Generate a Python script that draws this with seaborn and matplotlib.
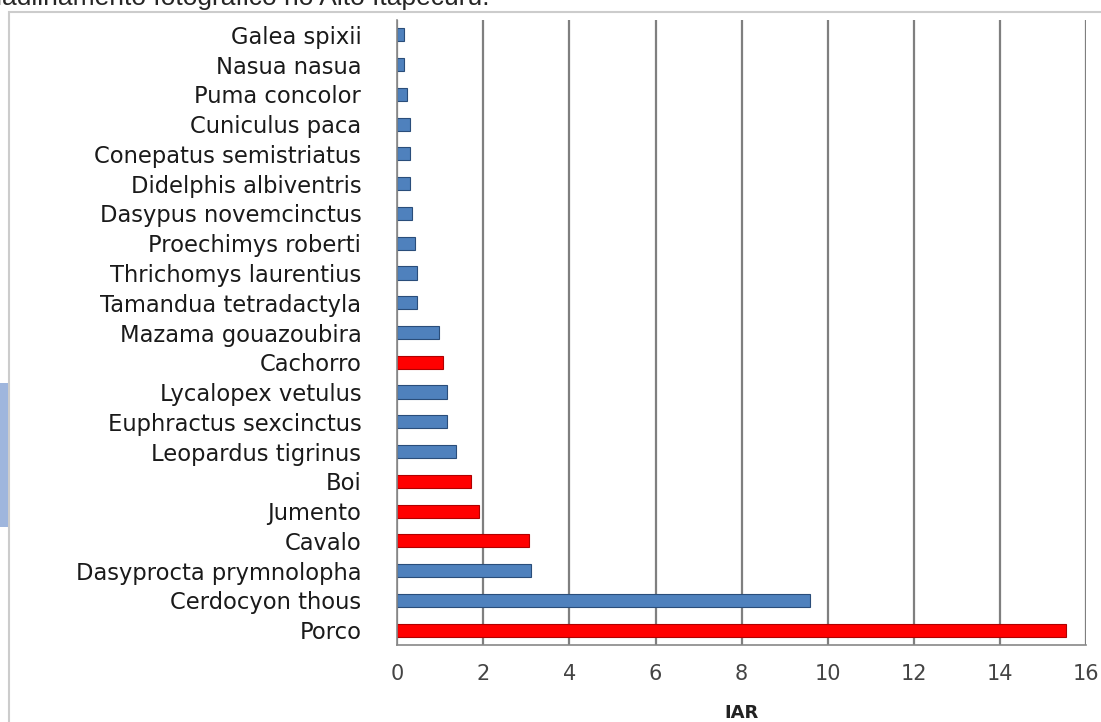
import matplotlib
matplotlib.use("Agg")
import matplotlib.pyplot as plt
import matplotlib.patches as mpatches
import seaborn as sns
import pandas as pd

species = ["Galea spixii", "Nasua nasua", "Puma concolor", "Cuniculus paca",
           "Conepatus semistriatus", "Didelphis albiventris", "Dasypus novemcinctus",
           "Proechimys roberti", "Thrichomys laurentius", "Tamandua tetradactyla",
           "Mazama gouazoubira", "Cachorro", "Lycalopex vetulus", "Euphractus sexcinctus",
           "Leopardus tigrinus", "Boi", "Jumento", "Cavalo", "Dasyprocta prymnolopha",
           "Cerdocyon thous", "Porco"]
iar = [0.15, 0.15, 0.22, 0.28, 0.28, 0.28, 0.33, 0.4, 0.45, 0.45,
       0.97, 1.05, 1.15, 1.15, 1.35, 1.7, 1.9, 3.05, 3.1, 9.6, 15.55]
kind = ["silvestre"] * 11 + ["doméstico"] + ["silvestre"] * 3 + ["doméstico"] * 3 + \
       ["silvestre"] * 2 + ["doméstico"]

df = pd.DataFrame({"especie": species, "IAR": iar, "tipo": kind})
cores = {"silvestre": "#4F81BD", "doméstico": "#FF0000"}
bordas = {"#4F81BD": "#2a4d7a", "#FF0000": "#b00000"}

sns.set_style("white")
plt.rcParams["font.family"] = ["DejaVu Sans"]

fig = plt.figure(figsize=(11.01, 7.22), dpi=100)
ax = fig.add_axes([0.361, 0.1066, 0.625, 0.8657])

sns.barplot(data=df, y="especie", x="IAR", hue="tipo", palette=cores,
            dodge=False, width=0.44, orient="h", legend=False, ax=ax,
            saturation=1, linewidth=0.8)
for bar in ax.patches:
    fc = matplotlib.colors.to_hex(bar.get_facecolor()).upper()
    bar.set_edgecolor(bordas.get(fc, "#333333"))

ax.set_xlim(0, 16)
ax.set_xticks(range(0, 17, 2))
ax.xaxis.grid(True, color="#7f7f7f", linewidth=1.6)
ax.set_axisbelow(True)
ax.set_ylabel("")
ax.set_xlabel("IAR", fontsize=13, fontweight="bold", labelpad=14, color="#222222")
ax.tick_params(axis="y", labelsize=16.3, length=4, color="#999999", pad=22,
               labelcolor="#1a1a1a")
ax.tick_params(axis="x", labelsize=15, length=0, pad=14, colors="#444444")
for s in ["top", "right"]:
    ax.spines[s].set_visible(False)
for s in ["left", "bottom"]:
    ax.spines[s].set_color("#888888")
    ax.spines[s].set_linewidth(1.2)

# chart frame and cropped header
fig.patches.append(mpatches.Rectangle((0.008, -0.01), 1.0, 0.993, transform=fig.transFigure,
                                      fill=False, edgecolor="#cccccc", linewidth=1.5))
fig.patches.append(mpatches.Rectangle((0.0, 0.27), 0.007, 0.2, transform=fig.transFigure,
                                      color="#9fb6dd", linewidth=0))
fig.text(-0.018, 1.003, "madilhamento fotográfico no Alto Itapecuru.", fontsize=19,
         family="Liberation Sans", va="center", ha="left")

fig.savefig("out.png", dpi=100)
